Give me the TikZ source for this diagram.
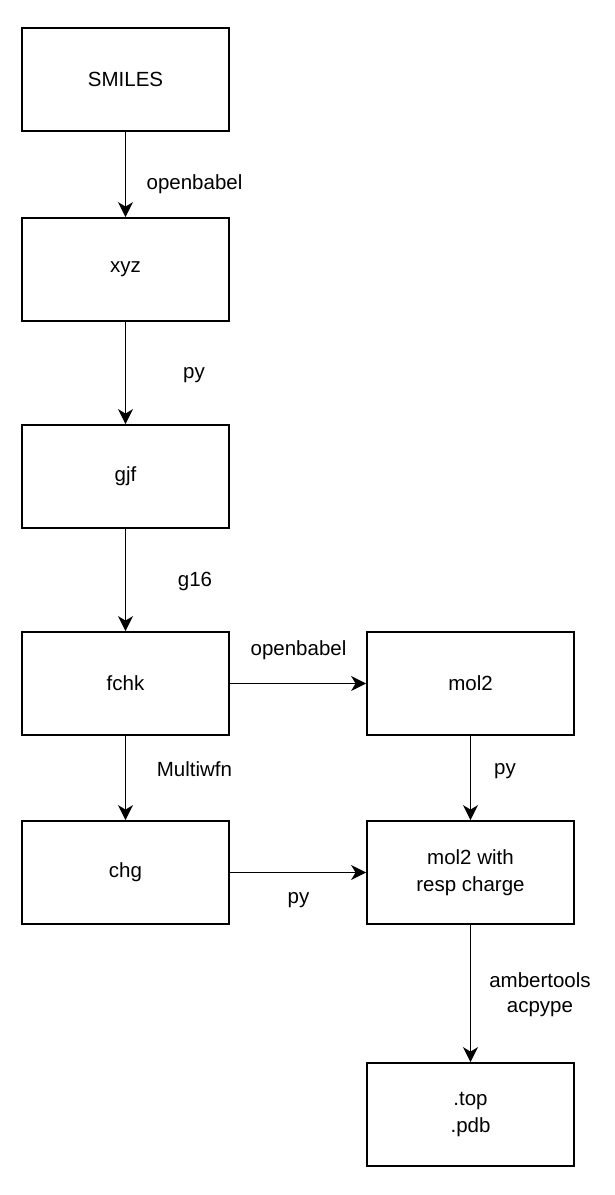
\documentclass[tikz,border=0pt]{standalone}
\usepackage{fontspec}
\setmainfont{Liberation Sans}
\usetikzlibrary{arrows.meta}
\begin{document}
\begin{tikzpicture}[x=1pt,y=-1pt,
  box/.style={draw=black,line width=1.8pt,minimum width=207pt,minimum height=103pt,inner sep=0pt,align=center,font=\fontsize{20.5}{26.5}\selectfont},
  lbl/.style={inner sep=0pt,align=center,font=\fontsize{20.5}{25}\selectfont},
  arr/.style={line width=1.8pt,-{Stealth[length=15pt,width=15pt,inset=4.5pt]}}]
\useasboundingbox[fill=white] (0,0) rectangle (614,1195);
\node[box] (smiles) at (125.5,79.5) {SMILES};
\node[box] (xyz) at (125.5,269.5) {xyz};
\node[box] (gjf) at (125.5,476.5) {gjf};
\node[box] (fchk) at (125.5,683.5) {fchk};
\node[box] (chg) at (125.5,872.5) {chg};
\node[box] (mol2) at (470.5,683.5) {mol2};
\node[box] (resp) at (470.5,872.5) {mol2 with\\resp charge};
\node[box] (top) at (470.5,1114.5) {.top\\.pdb};
\draw[arr] (smiles) -- (xyz);
\draw[arr] (xyz) -- (gjf);
\draw[arr] (gjf) -- (fchk);
\draw[arr] (fchk) -- (chg);
\draw[arr] (fchk) -- (mol2);
\draw[arr] (chg) -- (resp);
\draw[arr] (mol2) -- (resp);
\draw[arr] (resp) -- (top);
\node[lbl] (l1) at (194.5,184) {openbabel};
\node[lbl] (l2) at (194,375) {py};
\node[lbl] (l3) at (195,581) {g16};
\node[lbl] (l4) at (298.5,650.5) {openbabel};
\node[lbl] (l5) at (194.5,769.5) {Multiwfn};
\node[lbl] (l6) at (505,771.5) {py};
\node[lbl] (l7) at (298.5,900) {py};
\node[lbl] (l8) at (540,995) {ambertools\\acpype};
\end{tikzpicture}
\end{document}
